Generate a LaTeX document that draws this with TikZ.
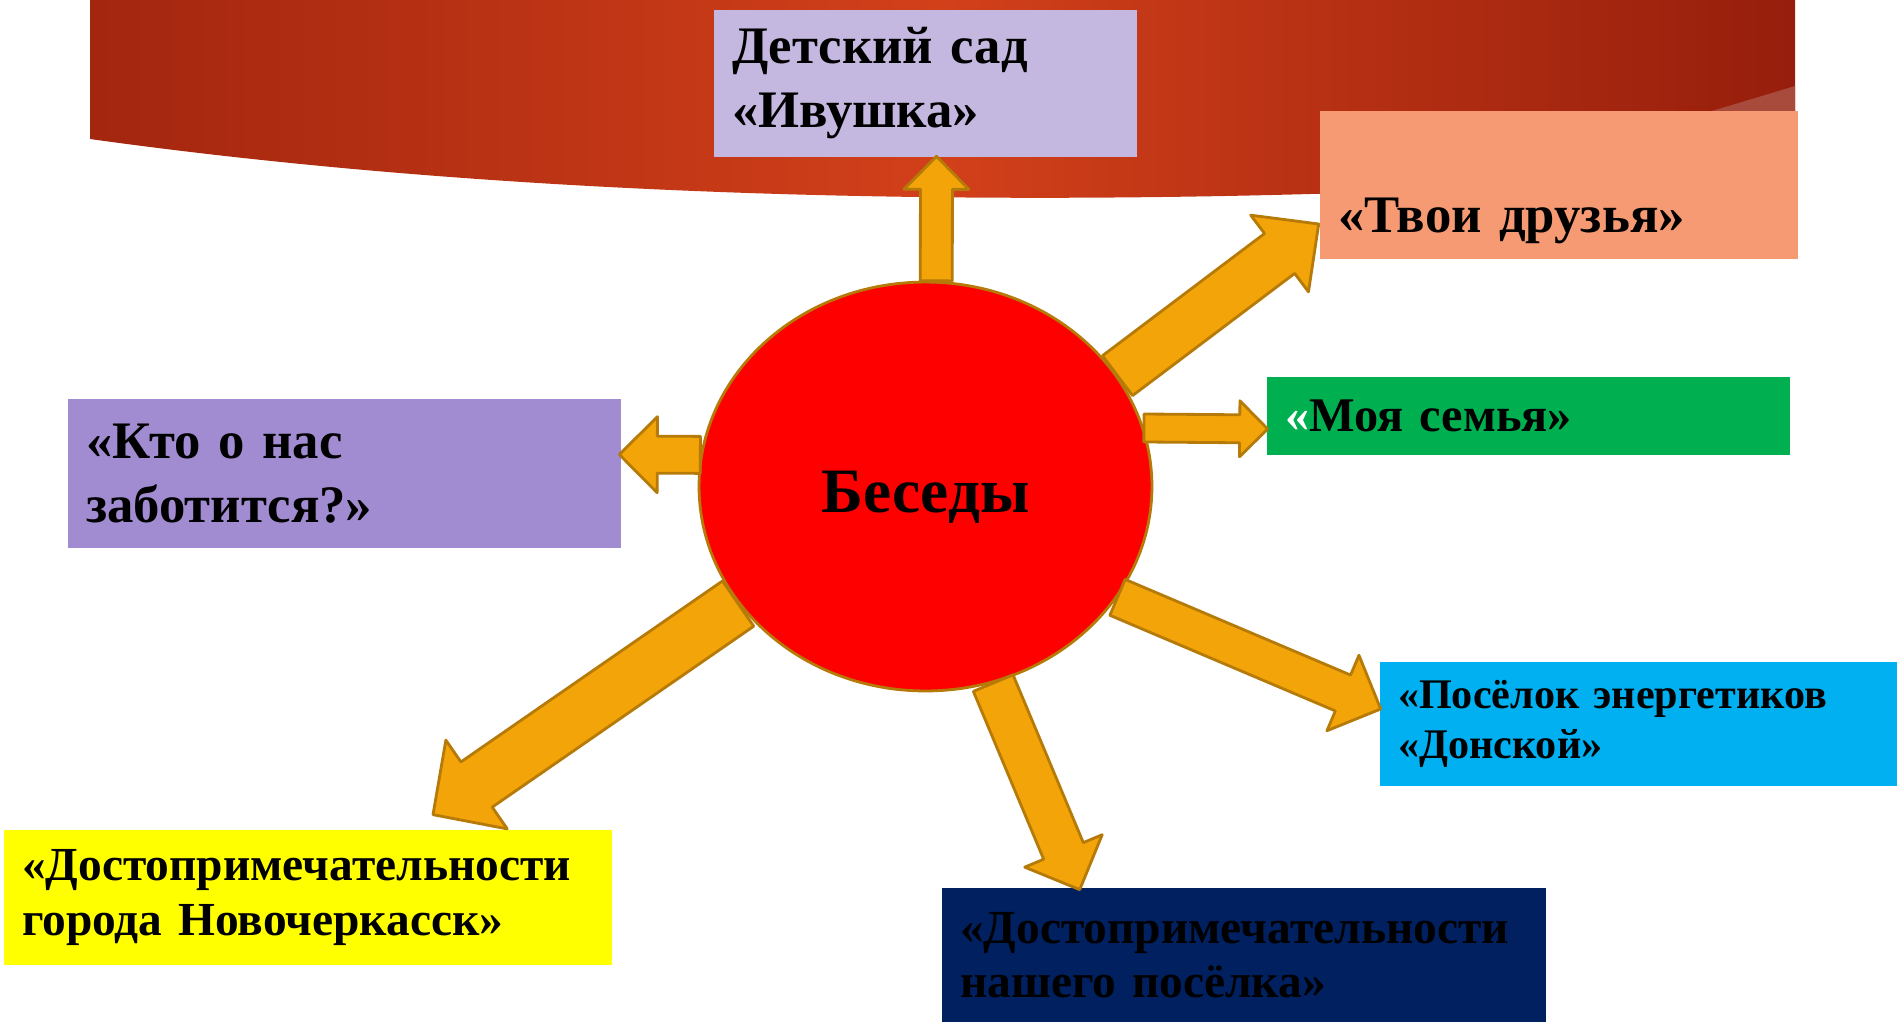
\documentclass[tikz,border=0pt]{standalone}
\usepackage{fontspec}
\setmainfont{Liberation Serif}
\usetikzlibrary{shapes.geometric,calc}

\definecolor{bandA}{HTML}{A3260F}
\definecolor{bandB}{HTML}{D2401A}
\definecolor{bandC}{HTML}{961E0C}
\definecolor{bandlight}{HTML}{A84A3C}
\definecolor{lav}{HTML}{C5B8E0}
\definecolor{salmon}{HTML}{F69A74}
\definecolor{grn}{HTML}{00B050}
\definecolor{lilac}{HTML}{A18CD1}
\definecolor{sky}{HTML}{00B0F0}
\definecolor{yel}{HTML}{FFFF00}
\definecolor{navy}{HTML}{002060}
\definecolor{arrfill}{HTML}{F2A408}
\definecolor{arrline}{HTML}{B57A08}

\def\pxpt{0.569055} % pt per pixel

% block arrow: from, to, shaft, head width, head length (pixels)
\newcommand{\blockarr}[5]{%
  \path[barrow] let \p1=(#1), \p2=(#2),
    \n1={atan2(\y2-\y1,\x2-\x1)},
    \n2={veclen(\x2-\x1,\y2-\y1)-#5*\pxpt*1pt},
    \n3={#3*\pxpt*1pt/2}, \n4={#4*\pxpt*1pt/2}, \n5={(#4-#3)*\pxpt*1pt/2} in
    (\p1) ++({\n1+90}:\n3) -- ++(\n1:\n2) -- ++({\n1+90}:\n5) -- (\p2)
    -- ($(\p1)+(\n1:\n2)+({\n1-90}:\n4)$) -- ++({\n1+90}:\n5)
    -- ($(\p1)+({\n1-90}:\n3)$) -- cycle;
}

\begin{document}
\begin{tikzpicture}[x=0.02cm, y=-0.02cm,
  box/.style={rectangle, inner xsep=0.36cm, inner ysep=0pt, align=left},
  barrow/.style={fill=arrfill, draw=arrline, line width=1.6pt, line join=round}]

\useasboundingbox (0,0) rectangle (1897,1022);

% red band on top
\shade[left color=bandA, right color=bandC, middle color=bandB]
  (90,0) -- (1795,0) -- (1795,170) .. controls (1200,212) and (600,210) .. (90,139) -- cycle;
\fill[bandlight] (1712,111) -- (1795,86) -- (1795,111) -- cycle;

\node[draw=arrline, line width=1.6pt, fill=red, ellipse, minimum width=9.06cm,
  minimum height=8.18cm, inner sep=0pt, font=\bfseries\fontsize{36}{40}\selectfont]
  (ctr) at (925.5,486.5) {\raisebox{-0.52cm}[0pt][0pt]{Беседы}};

\node[box, fill=lav, minimum width=8.46cm, minimum height=2.94cm, text width=7.74cm,
  font=\bfseries\fontsize{30}{36.4}\selectfont] (sad) at (925.5,83.5) {Детский сад\\«Ивушка»};
\node[box, fill=salmon, minimum width=9.56cm, minimum height=2.96cm, text width=8.84cm,
  text height=2.16cm, text depth=0.24cm,
  font=\bfseries\fontsize{30}{36.4}\selectfont] (druz) at (1559,185) {«Твои друзья»};
\node[box, fill=grn, minimum width=10.46cm, minimum height=1.56cm, text width=9.74cm,
  font=\bfseries\fontsize{27.5}{33}\selectfont] (semya) at (1528.5,416) {\textcolor{white}{«}Моя семья»};
\node[box, fill=lilac, minimum width=11.06cm, minimum height=2.98cm, text width=10.34cm,
  font=\bfseries\fontsize{30}{36}\selectfont] (zabota) at (344.5,473.5) {«Кто о нас\\заботится?»};
\node[box, fill=sky, minimum width=10.34cm, minimum height=2.48cm, text width=9.62cm,
  font=\bfseries\fontsize{24}{28.5}\selectfont] (poselok) at (1638.5,724) {«Посёлок энергетиков\\«Донской»};
\node[box, fill=yel, minimum width=12.16cm, minimum height=2.70cm, text width=11.44cm,
  font=\bfseries\fontsize{27}{31}\selectfont] (gorod) at (308,897.5) {«Достопримечательности\\города Новочеркасск»};
\node[box, fill=navy, minimum width=12.08cm, minimum height=2.68cm, text width=11.36cm,
  font=\bfseries\fontsize{27}{31}\selectfont] (nash) at (1244,955) {«Достопримечательности\\нашего посёлка»};

\blockarr{ctr.87}{$(sad.south)+(11,-1)$}{32}{65}{33}
\blockarr{ctr.30}{$(druz.west)+(-1,39)$}{50}{96}{49}
\blockarr{ctr.15}{$(semya.west)+(1,13)$}{28}{56}{28}
\blockarr{ctr.172}{$(zabota.east)+(-2,-19)$}{37}{76}{38}
\blockarr{ctr.330}{$(poselok.west)+(1,-15)$}{39}{82}{41}
\blockarr{ctr.212}{$(gorod.north)+(125,-15)$}{55}{108}{53}
\blockarr{ctr.289}{$(nash.north west)+(138,2)$}{43}{84}{42}

\end{tikzpicture}
\end{document}
